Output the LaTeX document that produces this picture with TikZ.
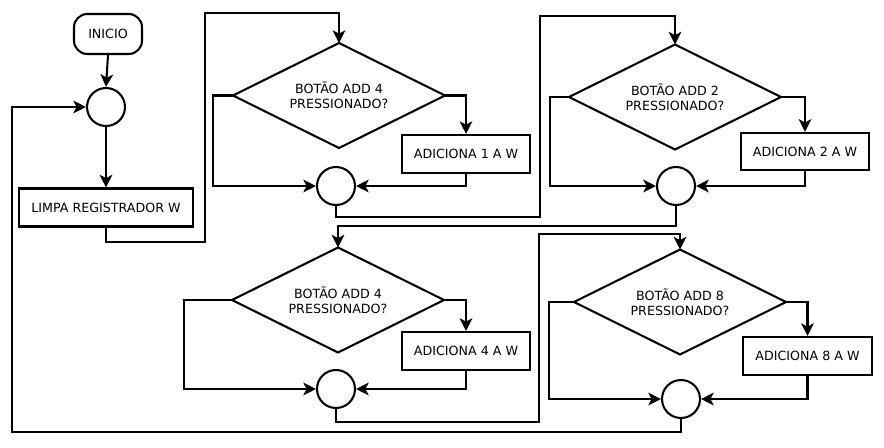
\documentclass[tikz,border=0pt]{standalone}
\usepackage{fontspec}
\setmainfont{DejaVu Sans}
\usetikzlibrary{arrows.meta}
\newcommand{\decisnode}[4]{%
  \node (#1) at (#2,#3) {#4};
  \coordinate (#1n) at (#2,#3-52.5);
  \coordinate (#1s) at (#2,#3+52.5);
  \coordinate (#1e) at (#2+106,#3);
  \coordinate (#1w) at (#2-106,#3);
  \draw[ln] (#1n) -- (#1e) -- (#1s) -- (#1w) -- cycle;}
\begin{document}
\begin{tikzpicture}[x=0.75pt,y=-0.75pt,
  every node/.style={font=\fontsize{9.5}{11.3}\selectfont, inner sep=0pt, align=center},
  ln/.style={line width=1.55pt, line join=miter},
  arr/.style={ln, -{Stealth[length=9.5pt,width=9.5pt,inset=2.5pt]}},
  procbox/.style={draw, line width=1.55pt, rectangle},
  junc/.style={draw, line width=1.55pt, circle, minimum size=28.5pt}]
\useasboundingbox (0,0) rectangle (884,447);
\fill[white] (0,0) rectangle (884,447);
% nodes
\node[procbox, rounded corners=10pt, minimum width=51pt, minimum height=30pt] (ini) at (108,34) {INICIO};
\node[junc] (c1) at (106,107) {};
\node[procbox, minimum width=130.5pt, minimum height=28.5pt] (limpa) at (106,207.5) {LIMPA REGISTRADOR W};
\decisnode{d1}{339}{95.5}{BOTÃO ADD 4\\PRESSIONADO?}
\node[procbox, minimum width=96pt, minimum height=28.5pt] (b1) at (466,154) {ADICIONA 1 A W};
\node[junc] (c2) at (336,186) {};
\decisnode{d2}{675}{97}{BOTÃO ADD 2\\PRESSIONADO?}
\node[procbox, minimum width=96pt, minimum height=28pt] (b2) at (805,151.5) {ADICIONA 2 A W};
\node[junc] (c3) at (676,186) {};
\decisnode{d3}{338}{300}{BOTÃO ADD 4\\PRESSIONADO?}
\node[procbox, minimum width=96pt, minimum height=28.5pt] (b3) at (466,351) {ADICIONA 4 A W};
\node[junc] (c4) at (336,389) {};
\decisnode{d4}{680}{302}{BOTÃO ADD 8\\PRESSIONADO?}
\node[procbox, minimum width=96.75pt, minimum height=28.5pt] (b4) at (807.5,356) {ADICIONA 8 A W};
\node[junc] (c5) at (681,399) {};
% connectors
\draw[arr] (ini.south) -- (c1.north);
\draw[arr] (c1.south) -- (limpa.north);
\draw[arr] (limpa.south) -- (106,242) -- (205,242) -- (205,13) -| (d1n);
% block 1
\draw[arr] (d1e) -| (b1.north);
\draw[arr] (b1.south) |- (c2.east);
\draw[arr] (d1w) -- (213,95.5) |- (c2.west);
\draw[arr] (c2.south) -- (336,217) -- (540,217) -- (540,16) -| (d2n);
% block 2
\draw[arr] (d2e) -| (b2.north);
\draw[arr] (b2.south) |- (c3.east);
\draw[arr] (d2w) -- (550,97) |- (c3.west);
\draw[arr] (c3.south) -- (676,226) -| (d3n);
% block 3
\draw[arr] (d3e) -| (b3.north);
\draw[arr] (b3.south) |- (c4.east);
\draw[arr] (d3w) -- (184,300) |- (c4.west);
\draw[arr] (c4.south) -- (336,422) -- (539,422) -- (539,234) -| (d4n);
% block 4
\draw[arr] (d4e) -| (b4.north);
\draw[arr] (b4.south) |- (c5.east);
\draw[arr] (d4w) -- (549,302) |- (c5.west);
\draw[arr] (c5.south) -- (681,432) -- (12,432) -- (12,107) -- (c1.west);
\end{tikzpicture}
\end{document}
